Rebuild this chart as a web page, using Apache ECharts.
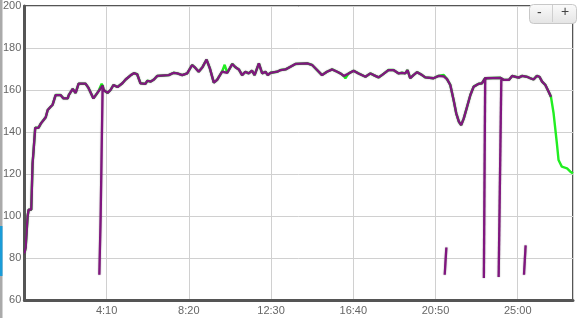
<!DOCTYPE html>
<html><head><meta charset="utf-8">
<script src="https://cdn.jsdelivr.net/npm/echarts@6/dist/echarts.min.js"></script>
<style>html,body{margin:0;padding:0;background:#fff}#c{width:578px;height:318px}</style>
</head><body><div id="c"></div>
<script>
// minutes since start, glucose value
const greenTimes = [0,4,10,13,21,25,28,33,43,50,56,65,71,80,86,95,110,119,132,135,147,156,165,186,195,210,222,227,235,238,241,253,262,271,283,298,308,323,333,343,353,368,374,384,394,404,439,454,465,480,495,510,520,530,542,554,564,576,586,601,609,617,632,642,652,662,672,682,692,700,713,723,733,740,748,769,779,794,809,824,860,875,890,905,920,936,951,961,971,976,986,1001,1016,1037,1052,1062,1077,1087,1107,1122,1138,1148,1158,1165,1173,1183,1194,1209,1219,1244,1259,1275,1285,1295,1305,1313,1321,1328,1336,1346,1356,1366,1380,1391,1401,1447,1458,1473,1483,1493,1503,1513,1528,1538,1548,1558,1566,1574,1584,1594,1601,1609,1619,1624,1634,1650,1660,1668];
const greenValues = [82,85,100,103,103,125,131,142,142,144,144,147,150.5,152,153,157.6,157.6,156,156,157.6,160.5,158.6,163,163,161,156,158.6,160,163,162,160,158.6,160,162.4,161.4,163.2,165,167,168,167.5,163.2,162.9,164.4,164,165,166.7,167.1,168.2,167.9,167.1,167.9,171.9,170.5,168.7,171,174.5,170.3,163.5,164.8,168.7,172,168.2,172.4,170.8,169.8,167.1,168.7,167.9,169.2,167.1,172.7,167.9,168.7,167.1,168.2,168.7,169.5,169.8,171.1,172.4,172.7,171.9,169.5,167.1,168.7,169.8,168.7,167.9,166.7,165.5,167.9,169.2,167.9,166.3,167.9,167.1,166,167.1,169.5,169.5,167.9,168.2,167.9,169.5,165.6,167.1,168.5,167.1,166,165.6,166.7,167.2,165.2,162.4,155.2,148.9,144.9,143.3,146.5,152,157.6,161.6,162.9,163.2,165.6,165.8,164.8,164.8,166.7,166.3,165.9,166.7,166.3,165.6,165,166.7,166.3,164,162.4,159.2,156.8,148.9,134.6,126.7,123.5,122.7,121.1,120.3];
const purpleTimes = [0,4,10,13,21,25,28,33,43,50,56,65,71,80,86,95,110,119,132,135,147,156,165,186,195,210,222,227,238,241,253,262,271,283,298,308,323,333,343,353,368,374,384,394,404,439,454,465,480,495,510,520,530,542,554,564,576,586,601,617,632,642,652,662,672,682,692,700,713,723,733,740,748,769,779,794,809,824,860,875,890,905,920,936,951,961,971,986,1001,1016,1037,1052,1062,1077,1087,1107,1122,1138,1148,1158,1165,1173,1183,1194,1209,1219,1244,1259,1275,1285,1295,1305,1313,1321,1328,1336,1346,1356,1366,1380,1391,1401,1447,1458,1473,1483,1493,1503,1513,1528,1538,1548,1558,1566,1574,1584,1594,1601];
const purpleValues = [82,85,100,103,103,125,131,142,142,144,144,147,150.5,152,153,157.6,157.6,156,156,157.6,160.5,158.6,163,163,161,156,158.6,159,162,160,158.6,160,162.4,161.4,163.2,165,167,168,167.5,163.2,162.9,164.4,164,165,166.7,167.1,168.2,167.9,167.1,167.9,171.9,170.5,168.7,171,174.5,170.3,163.5,164.8,168.7,168.2,172.4,170.8,169.8,167.1,168.7,167.9,169.2,167.1,172.7,167.9,168.7,167.1,168.2,168.7,169.5,169.8,171.1,172.4,172.7,171.9,169.5,167.1,168.7,169.8,168.7,167.9,166.7,167.9,169.2,167.9,166.3,167.9,167.1,166,167.1,169.5,169.5,167.9,168.2,167.9,169.5,165.6,167.1,168.5,167.1,166,165.6,166.7,166.5,165.2,162.4,155.2,148.9,144.9,143.3,146.5,152,157.6,161.6,162.9,163.2,165.6,165.8,164.8,164.8,166.7,166.3,165.9,166.7,166.3,165.6,165,166.7,166.3,164,162.4,159.2,156.8];
// short drops (time, value) pairs for each segment
const spikeTimes = [[228,232,238],[1278,1283],[1397,1401],[1442,1450],[1519,1524]];
const spikeValues = [[72,100,162],[72,85],[70.5,165.6],[71,165],[72,86]];
const xTicks = [0,250,500,750,1000,1250,1500];
const yMin = 60, yMax = 200, yStep = 20;

const zip = (a,b)=>a.map((t,i)=>[t,b[i]]);
function fmt(v){const h=Math.floor(v/60),m=Math.round(v%60);return h+':'+(m<10?'0':'')+m;}

const purpleStyle = {color:'#80167f',width:2.3,shadowColor:'rgba(0,0,0,0.4)',shadowBlur:1.5};
const series = [
 {type:'line',data:zip(greenTimes,greenValues),symbol:'none',lineStyle:{color:'#22ee22',width:2.4},z:2,animation:false},
 {type:'line',data:zip(purpleTimes,purpleValues),symbol:'none',lineStyle:purpleStyle,z:3,animation:false}
];
spikeTimes.forEach((ts,i)=>series.push({type:'line',data:zip(ts,spikeValues[i]),symbol:'none',lineStyle:purpleStyle,z:3,animation:false}));

const chart = echarts.init(document.getElementById('c'),null,{renderer:'canvas'});
chart.setOption({
 animation:false,
 grid:{left:23,top:6,right:5,bottom:18,show:true,borderColor:'#555',borderWidth:2},
 xAxis:{type:'value',min:0,max:1668,interval:250,
   axisLine:{show:true,lineStyle:{color:'#555',width:3}},axisTick:{show:false},
   splitLine:{show:true,lineStyle:{color:'#d0d0d0',width:1}},
   axisLabel:{showMinLabel:false,showMaxLabel:false,formatter:fmt,color:'#666',fontSize:11,fontFamily:'Liberation Sans, Arial, sans-serif',margin:5}},
 yAxis:{type:'value',min:yMin,max:yMax,interval:yStep,
   axisLine:{show:true,lineStyle:{color:'#555',width:3}},axisTick:{show:false},
   splitLine:{show:true,lineStyle:{color:'#d0d0d0',width:1}},
   axisLabel:{color:'#666',fontSize:11,fontFamily:'Liberation Sans, Arial, sans-serif',margin:3}},
 series:series,
 graphic:[
  {type:'rect',left:0,top:0,shape:{width:2.5,height:318},style:{fill:'#aaaaaa'},z:10},
  {type:'rect',left:0,top:226,shape:{width:2.5,height:50},style:{fill:'#1a9cd8'},z:11},
  {type:'rect',left:529,top:4,shape:{width:47,height:19,r:4},style:{fill:new echarts.graphic.LinearGradient(0,0,0,1,[{offset:0,color:'#fbfbfb'},{offset:1,color:'#e4e4e4'}]),stroke:'#c8c8c8',lineWidth:1},z:20},
  {type:'line',shape:{x1:552.5,y1:5,x2:552.5,y2:22},style:{stroke:'#cfcfcf',lineWidth:1},z:21},
  {type:'text',left:537,top:6,style:{text:'-',fill:'#444',font:'14px Liberation Sans, Arial, sans-serif'},z:21},
  {type:'text',left:561,top:5,style:{text:'+',fill:'#444',font:'14px Liberation Sans, Arial, sans-serif'},z:21}
 ]
});
</script></body></html>
